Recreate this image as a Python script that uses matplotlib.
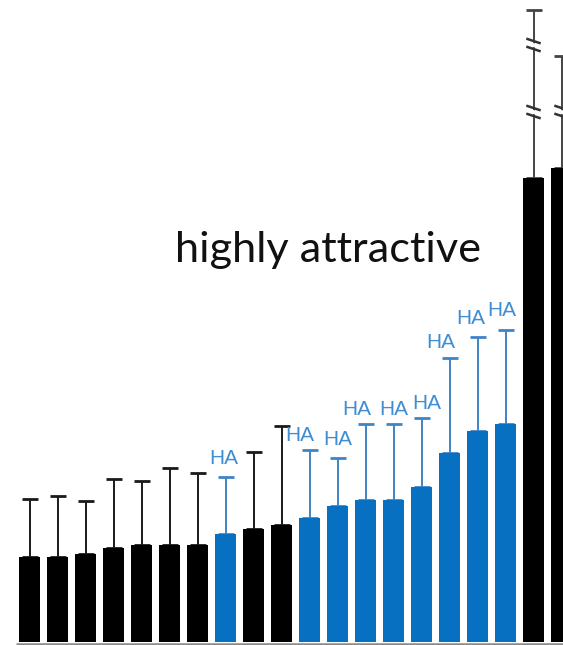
import numpy as np
import matplotlib
matplotlib.use("Agg")
import matplotlib.pyplot as plt

# Mean score per odour (sorted), upper error, and whether it is highly attractive
means = [85, 85, 88, 94, 97, 97, 97, 108, 113, 117,
         124, 136, 142, 142, 155, 189, 211, 218, 464, 474]
errors = [58, 61, 53, 69, 64, 77, 72, 57, 77, 99,
          68, 48, 76, 76, 69, 95, 94, 94, 168, 112]
highly_attractive = [0, 0, 0, 0, 0, 0, 0, 1, 0, 0,
                     1, 1, 1, 1, 1, 1, 1, 1, 0, 0]
ha_label = "HA"
title_text = "highly attractive"
# y levels where the long error bars are broken
break_levels = [530, 597]

BLACK = "#000000"
BLUE = "#0870c0"
BLUE_ERR = "#3f84c6"
HA_COLOR = "#3f8ed4"

W, H, DPI = 563, 645, 100
fig = plt.figure(figsize=(W / DPI, H / DPI), dpi=DPI)
ax = fig.add_axes([0, 0, 1, 1])

n = len(means)
x = np.arange(n)
step_px = 28.0
x0_px = 29.5
ax.set_xlim(-x0_px / step_px, (W - x0_px) / step_px)
ax.set_ylim(-3, H - 3)
ax.axis("off")

bar_colors = [BLUE if h else BLACK for h in highly_attractive]
ax.bar(x, means, width=0.78, color=bar_colors, zorder=2)

for i in range(n):
    blue = highly_attractive[i]
    ec = BLUE_ERR if blue else "#1a1a1a"
    if i >= 18:
        ec = "#444444"
    ax.errorbar(x[i], means[i], yerr=[[0], [errors[i]]], fmt="none",
                ecolor=ec, elinewidth=1.4, capsize=6, capthick=2.0, zorder=1)

# break marks on error bars that pass a break level
px_x = 1.0 / step_px
for i in range(n):
    top = means[i] + errors[i]
    for lv in break_levels:
        if means[i] < lv < top:
            xs = np.array([x[i] - 6 * px_x, x[i] + 6 * px_x])
            ax.fill([xs[0], xs[1], xs[1], xs[0]],
                    [lv + 4, lv, lv - 4, lv], color="white", zorder=3, lw=0)
            ax.plot(xs, [lv + 6, lv + 2], color="#333333", lw=1.8, zorder=4)
            ax.plot(xs, [lv - 2, lv - 6], color="#333333", lw=1.8, zorder=4)

# "HA" labels above the highly attractive bars
ha_nudge_px = [(-1.5, 9), (-9.5, 5), (0, 9), (-9, 5), (0, 5),
               (5.5, 5), (-9, 6), (-7, 9), (-4, 10)]
k = 0
for i in range(n):
    if highly_attractive[i]:
        dx, dy = ha_nudge_px[k]
        ax.annotate(ha_label, xy=(x[i], means[i] + errors[i]),
                    xytext=(dx, dy), textcoords="offset pixels",
                    ha="center", va="bottom", color=HA_COLOR,
                    fontsize=15, family="Liberation Sans",
                    zorder=5)
        k += 1

# baseline
ax.plot([(16 - x0_px) / step_px, (W - x0_px) / step_px], [-1.5, -1.5],
        color="#8a8a8a", lw=1.8, zorder=3, solid_capstyle="butt")

# headline text, sized to its target width
t = fig.text(175 / W, (H - 262) / H, title_text, family="Lato",
             fontsize=28, color="#111111", va="baseline", ha="left")
fig.canvas.draw()
w = t.get_window_extent(fig.canvas.get_renderer()).width
t.set_fontsize(28 * 307.0 / w)

fig.savefig("out.png", dpi=DPI)
